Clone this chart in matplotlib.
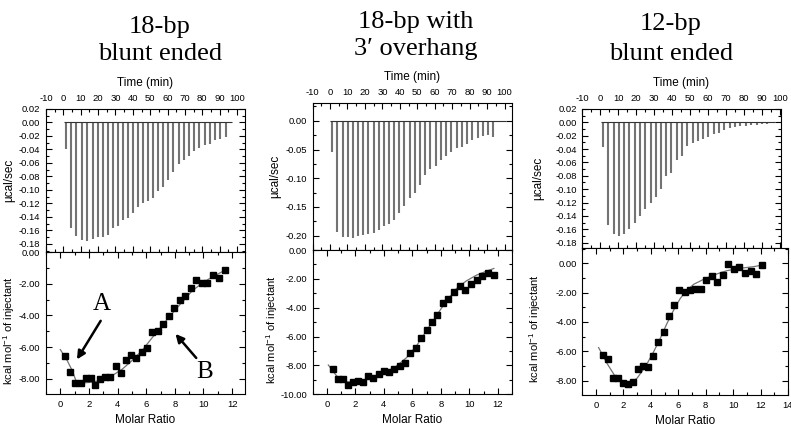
import matplotlib
matplotlib.use('Agg')
import matplotlib.pyplot as plt
from matplotlib.ticker import MultipleLocator, FormatStrFormatter

plt.rcParams['font.family'] = ['Liberation Sans', 'DejaVu Sans']
plt.rcParams['axes.unicode_minus'] = False
plt.rcParams['mathtext.default'] = 'regular'

titles = [("18-bp", "blunt ended"), ("18-bp with", "3\u2032 overhang"), ("12-bp", "blunt ended")]

# raw thermograms: injection times (min) and peak heights (ucal/sec)
t1 = [1.34, 4.41, 7.47, 10.73, 13.79, 16.86, 19.73, 22.6, 25.48, 28.35, 31.22, 34.1, 36.97, 39.84,
      42.91, 45.79, 48.66, 51.53, 54.6, 57.47, 60.53, 63.41, 66.48, 69.54, 72.41, 75.48, 78.35,
      81.42, 84.48, 87.55, 90.42, 93.68]
p1 = [-0.040, -0.157, -0.168, -0.174, -0.175, -0.172, -0.170, -0.170, -0.167, -0.156, -0.154,
      -0.145, -0.141, -0.134, -0.125, -0.120, -0.117, -0.112, -0.102, -0.096, -0.085, -0.073,
      -0.062, -0.055, -0.049, -0.042, -0.038, -0.033, -0.032, -0.026, -0.024, -0.022]
t2 = [0.95, 4.19, 7.24, 10.1, 12.95, 16.0, 19.05, 21.9, 24.95, 27.81, 30.86, 33.71, 36.76, 39.81,
      42.67, 45.71, 48.57, 51.62, 54.48, 57.52, 60.57, 63.62, 66.67, 69.52, 72.57, 75.62, 78.48,
      81.52, 84.57, 87.62, 90.48, 93.52]
p2 = [-0.054, -0.193, -0.203, -0.203, -0.204, -0.201, -0.199, -0.197, -0.195, -0.191, -0.184,
      -0.180, -0.173, -0.161, -0.148, -0.135, -0.125, -0.112, -0.095, -0.084, -0.078, -0.069,
      -0.062, -0.055, -0.048, -0.045, -0.040, -0.034, -0.030, -0.027, -0.024, -0.029]
t3 = [1.30, 4.26, 7.41, 10.19, 13.33, 16.11, 19.07, 22.04, 25.0, 27.96, 30.93, 33.89, 36.67, 39.63,
      42.59, 45.56, 48.52, 51.48, 54.26, 57.22, 60.19, 63.15, 66.11, 69.07, 72.04, 75.0, 78.0,
      81.0, 84.0, 87.0, 90.0, 93.0]
p3 = [-0.037, -0.153, -0.167, -0.170, -0.167, -0.159, -0.150, -0.140, -0.129, -0.120, -0.112,
      -0.099, -0.081, -0.076, -0.057, -0.051, -0.035, -0.031, -0.028, -0.025, -0.022, -0.018,
      -0.016, -0.012, -0.009, -0.007, -0.006, -0.005, -0.004, -0.004, -0.003, -0.003]
base_end = [97.0, 101.0, 97.0]

# integrated heats: molar ratio and kcal/mol of injectant
x1 = [0.36, 0.71, 1.06, 1.41, 1.76, 2.11, 2.45, 2.80, 3.15, 3.50, 3.90, 4.24, 4.59, 4.97, 5.32,
      5.71, 6.06, 6.43, 6.80, 7.18, 7.58, 7.97, 8.36, 8.74, 9.13, 9.50, 9.90, 10.27, 10.69,
      11.08, 11.48]
y1 = [-6.57, -7.54, -8.25, -8.25, -7.92, -7.96, -8.36, -8.00, -7.85, -7.89, -7.20, -7.62, -6.78,
      -6.50, -6.65, -6.29, -6.08, -5.03, -4.95, -4.55, -4.06, -3.54, -3.01, -2.80, -2.25, -1.79,
      -1.94, -1.94, -1.45, -1.62, -1.16]
x2 = [0.46, 0.81, 1.16, 1.51, 1.86, 2.21, 2.56, 2.91, 3.26, 3.65, 4.00, 4.35, 4.73, 5.10, 5.47,
      5.84, 6.22, 6.59, 6.99, 7.36, 7.73, 8.13, 8.52, 8.92, 9.32, 9.71, 10.11, 10.50, 10.90,
      11.30, 11.71]
y2 = [-8.28, -8.93, -8.93, -9.39, -9.16, -9.07, -9.16, -8.76, -8.90, -8.62, -8.37, -8.44, -8.28,
      -8.04, -7.81, -7.16, -6.76, -6.13, -5.57, -4.97, -4.52, -3.68, -3.40, -2.94, -2.49, -2.75,
      -2.33, -2.05, -1.77, -1.61, -1.70]
x3 = [0.51, 0.87, 1.24, 1.58, 1.94, 2.31, 2.67, 3.04, 3.43, 3.79, 4.16, 4.55, 4.94, 5.33, 5.72,
      6.08, 6.47, 6.86, 7.25, 7.64, 8.05, 8.44, 8.83, 9.24, 9.66, 10.05, 10.46, 10.87, 11.29,
      11.70, 12.14]
y3 = [-6.27, -6.50, -7.84, -7.84, -8.14, -8.25, -8.07, -7.18, -6.98, -7.05, -6.32, -5.36, -4.71,
      -3.61, -2.82, -1.80, -1.98, -1.84, -1.73, -1.75, -1.12, -0.87, -1.30, -0.80, -0.03, -0.39,
      -0.25, -0.64, -0.50, -0.71, -0.12]

# fitted curves
fx1 = [0.0, 0.48, 0.83, 1.11, 1.52, 2.22, 2.92, 3.62, 4.32, 5.01, 5.71, 6.41, 7.11, 7.80, 8.50,
       9.20, 9.90, 10.60, 11.48]
fy1 = [-6.15, -6.84, -7.47, -8.15, -8.25, -8.21, -8.06, -7.79, -7.39, -6.84, -6.21, -5.41, -4.63,
       -3.89, -3.16, -2.46, -1.96, -1.58, -1.16]
fx2 = [0.11, 0.70, 1.40, 2.09, 2.79, 3.49, 4.19, 4.89, 5.59, 6.29, 6.99, 7.68, 8.38, 9.08, 9.78,
       10.48, 11.18, 11.71]
fy2 = [-7.97, -8.74, -9.14, -9.14, -8.97, -8.69, -8.44, -8.04, -7.46, -6.64, -5.59, -4.55, -3.54,
       -2.68, -2.14, -1.75, -1.47, -1.28]
fx3 = [0.19, 0.80, 1.41, 2.02, 2.50, 2.99, 3.60, 4.21, 4.69, 5.18, 5.67, 6.15, 6.64, 7.13, 7.86,
       8.59, 9.56, 10.53, 11.51, 12.14]
fy3 = [-5.75, -6.82, -7.73, -8.18, -8.18, -7.84, -7.05, -6.02, -5.11, -4.09, -3.18, -2.39, -1.82,
       -1.43, -1.09, -0.80, -0.50, -0.34, -0.23, -0.12]

W, H = 791, 428
fig = plt.figure(figsize=(W / 100, H / 100), dpi=100)


def box(x0, y0, x1, y1):
    return [x0 / W, 1 - y1 / H, (x1 - x0) / W, (y1 - y0) / H]


def style(ax, xmaj, xmin, ymaj, ymin):
    ax.xaxis.set_major_locator(MultipleLocator(xmaj))
    ax.xaxis.set_minor_locator(MultipleLocator(xmin))
    ax.yaxis.set_major_locator(MultipleLocator(ymaj))
    ax.yaxis.set_minor_locator(MultipleLocator(ymin))
    ax.yaxis.set_major_formatter(FormatStrFormatter('%.2f'))
    ax.tick_params(which='both', direction='in', top=True, right=True, width=0.8,
                   labelsize=6.8, pad=4)
    ax.tick_params(which='major', length=4)
    ax.tick_params(which='minor', length=2.5)
    for s in ax.spines.values():
        s.set_linewidth(0.8)


panels = [
    dict(top=(46, 109, 245, 252), bot=(46, 252, 245, 394), tlim=(-10, 104.6), tylim=(-0.192, 0.02),
         tmaj=0.02, xlim=(-1, 12.9), ylim=(-8.95, 0), t=t1, p=p1, x=x1, y=y1, fx=fx1, fy=fy1,
         lab=(15, 17)),
    dict(top=(312.5, 103, 512.3, 250), bot=(312.5, 250, 512.3, 394.3), tlim=(-10, 104.4),
         tylim=(-0.225, 0.031), tmaj=0.05, xlim=(-1, 13), ylim=(-10, 0),
         t=t2, p=p2, x=x2, y=y2, fx=fx2, fy=fy2, lab=(281, 280)),
    dict(top=(582.3, 109, 780.7, 248.3), bot=(582.3, 248.3, 788, 395), tlim=(-10, 100.4),
         tylim=(-0.1885, 0.02), tmaj=0.02, xlim=(-1, 14), ylim=(-8.98, 1.02),
         t=t3, p=p3, x=x3, y=y3, fx=fx3, fy=fy3, lab=(544, 543)),
]

bot_axes = []
for i, pn in enumerate(panels):
    at = fig.add_axes(box(*pn['top']))
    at.vlines(pn['t'], pn['p'], 0, color='0.45', lw=1.5)
    at.hlines(0, pn['t'][0] - 1, base_end[i], color='0.2', lw=0.8)
    at.set_xlim(*pn['tlim'])
    at.set_ylim(*pn['tylim'])
    style(at, 10, 5, pn['tmaj'], pn['tmaj'] / 2)
    at.tick_params(axis='x', labeltop=True, labelbottom=False)
    at.xaxis.set_label_position('top')
    at.set_xlabel('Time (min)', fontsize=8.5, labelpad=6)
    at.set_ylabel('\u00b5cal/sec', fontsize=8.5)
    wt = pn['top'][2] - pn['top'][0]
    at.yaxis.set_label_coords((pn['lab'][0] - pn['top'][0]) / wt, 0.5)

    ab = fig.add_axes(box(*pn['bot']))
    ab.plot(pn['fx'], pn['fy'], color='0.45', lw=0.9)
    ab.plot(pn['x'], pn['y'], 's', color='black', ms=4)
    ab.set_xlim(*pn['xlim'])
    ab.set_ylim(*pn['ylim'])
    style(ab, 2, 1, 2, 1)
    ab.set_xlabel('Molar Ratio', fontsize=8.5, labelpad=4)
    ab.set_ylabel('kcal mol$^{-1}$ of injectant', fontsize=8)
    wb = pn['bot'][2] - pn['bot'][0]
    ab.yaxis.set_label_coords((pn['lab'][1] - pn['bot'][0]) / wb, 0.45)
    bot_axes.append(ab)

# titles
serif = ['Liberation Serif', 'DejaVu Serif']
title_x = [160, 416, 671]
title_y = [(33, 60), (28, 55), (30, 60)]
for (l1, l2), xc, (ya, yb) in zip(titles, title_x, title_y):
    fig.text(xc / W, 1 - ya / H, l1, ha='center', va='baseline', fontsize=19, family=serif)
    fig.text(xc / W, 1 - yb / H, l2, ha='center', va='baseline', fontsize=19, family=serif)

# A / B annotations on the first fit
a0 = bot_axes[0]
a0.annotate('', xy=(1.06, -6.92), xytext=(2.92, -4.19),
            arrowprops=dict(arrowstyle='-|>', color='black', lw=1.8, mutation_scale=12))
a0.text(2.9, -4.0, 'A', ha='center', va='bottom', fontsize=18, family=serif)
a0.annotate('', xy=(7.92, -5.03), xytext=(9.62, -6.81),
            arrowprops=dict(arrowstyle='-|>', color='black', lw=1.8, mutation_scale=12))
a0.text(10.1, -6.9, 'B', ha='center', va='top', fontsize=18, family=serif)

fig.savefig('out.png', dpi=100)
